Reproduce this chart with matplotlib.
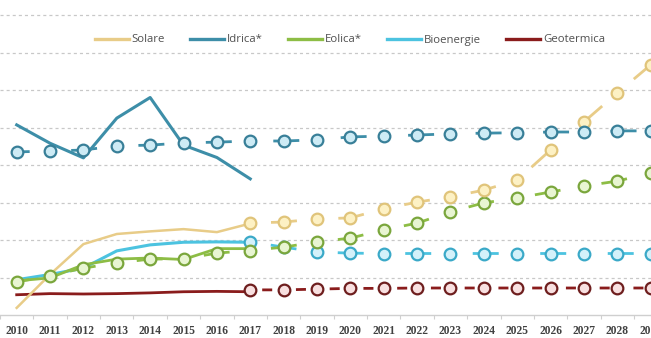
import matplotlib
matplotlib.use("Agg")
import matplotlib.pyplot as plt
from matplotlib.lines import Line2D
import numpy as np

plt.rcParams['lines.scale_dashes'] = False

years_hist = list(range(2010, 2018))
years_all = list(range(2010, 2030))
years_proj = list(range(2017, 2030))
tick_labels = [str(y) for y in years_all]

# historical (solid)
solare_hist = [1.9, 10.8, 18.9, 21.6, 22.3, 22.9, 22.1, 24.4]
idrica_hist = [50.7, 45.8, 41.9, 52.5, 58.0, 45.3, 42.0, 36.3]
eolica_hist = [9.1, 9.9, 13.4, 14.9, 15.2, 14.8, 17.7, 17.7]
bio_hist = [9.4, 10.8, 12.5, 17.1, 18.7, 19.4, 19.5, 19.4]
geo_hist = [5.4, 5.7, 5.6, 5.7, 5.9, 6.2, 6.3, 6.2]

# normalised / projections (dashed with circles)
idrica_norm = [43.5, 43.7, 44.0, 45.1, 45.3, 45.9, 46.1, 46.4, 46.4, 46.7,
               47.5, 47.7, 48.0, 48.3, 48.5, 48.6, 48.8, 48.8, 49.1, 49.1]
eolica_norm = [8.8, 10.5, 12.5, 13.9, 14.9, 15.0, 16.5, 17.2, 18.1, 19.5,
               20.5, 22.7, 24.5, 27.5, 29.9, 31.2, 32.8, 34.4, 35.7, 37.9]
solare_proj = [24.5, 24.8, 25.6, 25.9, 28.3, 30.1, 31.5, 33.3, 36.0, 44.0,
               51.5, 59.2, 66.7]
bio_proj = [19.5, 18.1, 16.8, 16.5, 16.4, 16.4, 16.4, 16.4, 16.4, 16.4,
            16.4, 16.4, 16.4]
geo_proj = [6.7, 6.7, 6.9, 7.1, 7.1, 7.2, 7.2, 7.2, 7.2, 7.2, 7.2, 7.2, 7.2]

series_names = ["Solare", "Idrica*", "Eolica*", "Bioenergie", "Geotermica"]
line_cols = {"Solare": "#e8cc88", "Idrica*": "#3d8ea8", "Eolica*": "#8dbd45",
             "Bioenergie": "#4cc3e0", "Geotermica": "#8a1c1c"}
edge_cols = {"Solare": "#e0c47a", "Idrica*": "#387f98", "Eolica*": "#7aa63c",
             "Bioenergie": "#3aa9c8", "Geotermica": "#6e1e1e"}
fill_cols = {"Solare": "#fdf1c4", "Idrica*": "#cdebf5", "Eolica*": "#e8f5d2",
             "Bioenergie": "#d4f1fa", "Geotermica": "#f8e0e0"}

fig = plt.figure(figsize=(6.51, 3.38), dpi=100)
ax = fig.add_axes([0, 23 / 338, 1, 315 / 338])
ax.set_xlim(2009.727, 2029.01)
ax.set_ylim(0, 84)

# grid
for v in range(10, 90, 10):
    ax.axhline(v, color="#c8c8c8", lw=0.9, ls=(0, (2.2, 2.2)), zorder=0)

# solid historical lines
ax.plot(years_hist, geo_hist, color=line_cols["Geotermica"], lw=2.0, zorder=2)
ax.plot(years_hist, solare_hist, color=line_cols["Solare"], lw=1.8, zorder=2)
ax.plot(years_hist, bio_hist, color=line_cols["Bioenergie"], lw=2.2, zorder=2)
ax.plot(years_hist, eolica_hist, color=line_cols["Eolica*"], lw=2.0, zorder=2)
ax.plot(years_hist, idrica_hist, color=line_cols["Idrica*"], lw=2.2, zorder=2)

on, off = 18.7, 29.9
even_ls = (on / 2, (on, off))
odd_ls = (on + off / 2, (on, off))
geo_ls = (15.7, (7.2, 17.1))

def dashed(xs, ys, name, ls, z):
    ax.plot(xs, ys, color=line_cols[name], lw=2.0, ls=ls, marker="o",
            markersize=8.4, markeredgewidth=1.6,
            markeredgecolor=edge_cols[name], markerfacecolor=fill_cols[name],
            zorder=z)

dashed(years_proj, geo_proj, "Geotermica", geo_ls, 3)
dashed(years_proj, bio_proj, "Bioenergie", odd_ls, 3)
dashed(years_all, eolica_norm, "Eolica*", even_ls, 4)
dashed(years_proj, solare_proj, "Solare", odd_ls, 4)
dashed(years_all, idrica_norm, "Idrica*", even_ls, 5)

# axes styling
for s in ["top", "left", "right"]:
    ax.spines[s].set_visible(False)
ax.spines["bottom"].set_color("#cfcfcf")
ax.spines["bottom"].set_linewidth(1.0)
ax.set_yticks([])
ax.set_xticks(years_all)
ax.set_xticklabels(tick_labels, fontsize=8.3, family="Liberation Serif",
                   color="#404040", fontweight="bold")
ax.tick_params(axis="x", which="major", length=0, pad=7)
ax.set_xticks([y + 0.5 for y in range(2009, 2029)], minor=True)
ax.tick_params(axis="x", which="minor", length=3, color="#cfcfcf", width=0.8)

handles = [Line2D([0], [0], color=line_cols[n], lw=2.4) for n in series_names]
fig.legend(handles, series_names, loc="center", ncol=5, frameon=False,
           bbox_to_anchor=(350 / 651, 1 - 40 / 338),
           prop={"family": "Open Sans", "size": 8.2}, labelcolor="#505050",
           handlelength=3.0, handletextpad=0.25, columnspacing=2.2)

fig.savefig("out.png", dpi=100)
